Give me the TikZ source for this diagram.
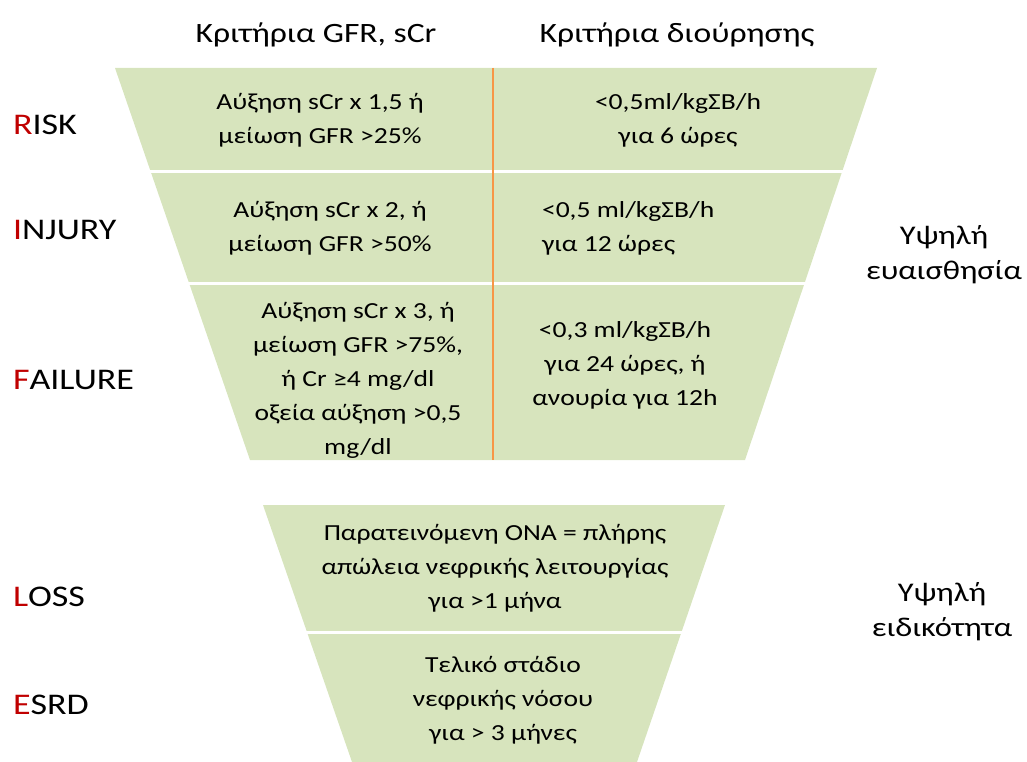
\documentclass[tikz,border=0pt]{standalone}
\usepackage{fontspec}
\setmainfont{Carlito}[FakeStretch=1.2]
\usetikzlibrary{calc}
\definecolor{panelgreen}{HTML}{D7E4BD}
\definecolor{lineorange}{HTML}{F79646}
\definecolor{letterred}{HTML}{C00000}
\newcommand{\redinitial}[1]{\textcolor{letterred}{#1}}

\begin{document}
\begin{tikzpicture}[x=1pt,y=-1pt,inner sep=0pt,outer sep=0pt,
	celltext/.style={align=center,font=\fontsize{23}{34}\selectfont},
	headtext/.style={font=\fontsize{28}{34}\selectfont},
	stagetext/.style={anchor=west,font=\fontsize{30}{36}\selectfont},
	sidetext/.style={align=center,font=\fontsize{27}{35}\selectfont},
	separator/.style={white,line width=3pt}]
	\useasboundingbox (0,0) rectangle (1027,762);
	
	% upper funnel
	\coordinate (top_l) at (115,68);
	\coordinate (top_r) at (877,68);
	\coordinate (mid_l) at (250,460);
	\coordinate (mid_r) at (745,460);
	\fill[panelgreen] (top_l)--(top_r)--(mid_r)--(mid_l)--cycle;
	\draw[separator] (100,172)--(900,172);
	\draw[separator] (100,283)--(900,283);
	\coordinate (col_top) at (493,68);
	\coordinate (col_bot) at (493,460);
	\draw[lineorange,line width=2.5pt] (col_top)--(col_bot);
	
	% lower funnel
	\coordinate (low_l) at (263,505);
	\coordinate (low_r) at (725,505);
	\coordinate (end_l) at (352,762);
	\coordinate (end_r) at (637,762);
	\fill[panelgreen] (low_l)--(low_r)--(end_r)--(end_l)--cycle;
	\draw[separator] (250,632)--(740,632);
	
	% headers
	\node[headtext] at (316,35) (h_gfr) {Κριτήρια GFR, sCr};
	\node[headtext] at (677,35) (h_urine) {Κριτήρια διούρησης};
	
	% stages
	\node[stagetext] at (13,125) (risk) {\redinitial{R}ISK};
	\node[stagetext] at (13,230) (injury) {\redinitial{I}NJURY};
	\node[stagetext] at (13,380) (failure) {\redinitial{F}AILURE};
	\node[stagetext] at (13,597) (loss) {\redinitial{L}OSS};
	\node[stagetext] at (13,705) (esrd) {\redinitial{E}SRD};
	
	% criteria
	\node[celltext] at (320,120) (risk_gfr) {Αύξηση sCr x 1,5 ή\\μείωση GFR >25\%};
	\node[celltext] at (678,120) (risk_urine) {<0,5ml/kgΣΒ/h\\για 6 ώρες};
	\node[celltext] at (330,228) (injury_gfr) {Αύξηση sCr x 2, ή\\μείωση GFR >50\%};
	\node[celltext,anchor=west,align=left] at (542,228) (injury_urine) {<0,5 ml/kgΣΒ/h\\για 12 ώρες};
	\node[celltext] at (358,380) (failure_gfr) {Αύξηση sCr x 3, ή\\μείωση GFR >75\%,\\ή Cr ≥4 mg/dl\\οξεία αύξηση >0,5\\mg/dl};
	\node[celltext] at (625,365) (failure_urine) {<0,3 ml/kgΣΒ/h\\για 24 ώρες, ή\\ανουρία για 12h};
	\node[celltext] at (495,568) (loss_text) {Παρατεινόμενη ΟΝΑ = πλήρης\\απώλεια νεφρικής λειτουργίας\\για >1 μήνα};
	\node[celltext] at (503,700) (esrd_text) {Τελικό στάδιο\\νεφρικής νόσου\\για > 3 μήνες};
	
	% right side
	\node[sidetext] at (944,255) (sensitivity) {Υψηλή\\ευαισθησία};
	\node[sidetext] at (942,612) (specificity) {Υψηλή\\ειδικότητα};
\end{tikzpicture}
\end{document}
